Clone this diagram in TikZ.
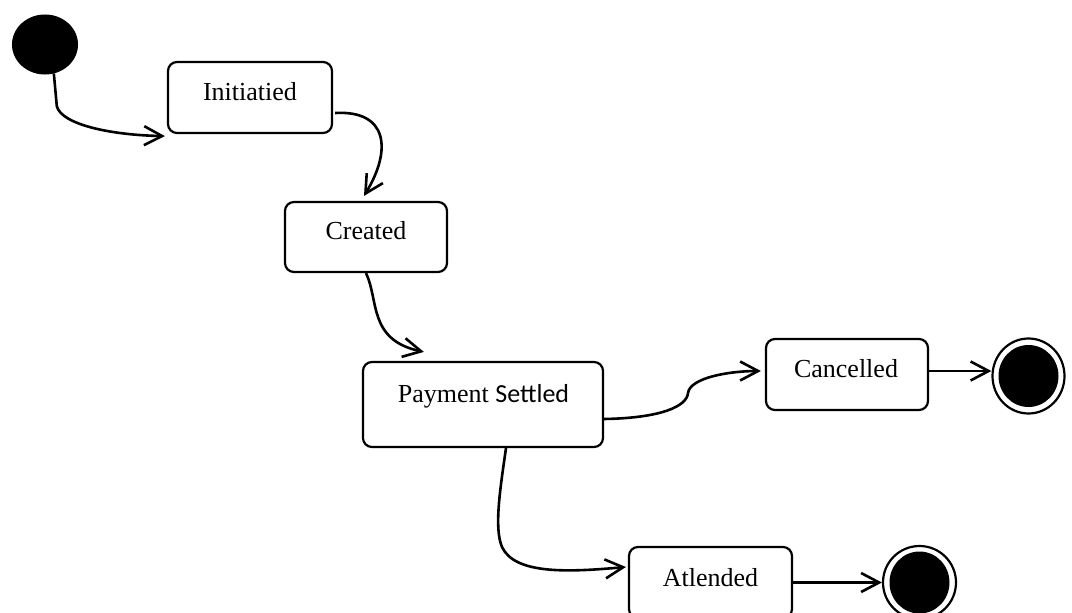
\documentclass[tikz,border=0pt]{standalone}
\usepackage{fontspec}
\setmainfont{Liberation Serif}
\newfontfamily\calibrifont{Carlito}
\usetikzlibrary{arrows.meta,shapes.geometric,calc}

\begin{document}
\begin{tikzpicture}[x=1pt,y=-1pt,
  statebox/.style={draw, line width=2.2pt, rounded corners=9pt, inner sep=0pt},
  statetext/.style={anchor=base, inner sep=0pt, font=\fontsize{26}{30}\selectfont},
  startdot/.style={ellipse, fill=black, draw=black, line width=1pt, inner sep=0pt},
  enddot/.style={ellipse, draw=black, line width=2.2pt, inner sep=0pt,
    path picture={\fill[black] (path picture bounding box.center) ellipse [x radius=30pt, y radius=31pt];}},
  flow/.style={line width=2.6pt, -{Straight Barb[length=18pt,width=19pt,line width=2.6pt]}}
]
\useasboundingbox (0,0) rectangle (1072,613);
\clip (0,0) rectangle (1072,613);

% initial pseudo-state
\node[startdot, minimum width=65pt, minimum height=59pt] (init) at (45,44.5) {};

% states
\node[statebox, minimum width=164pt, minimum height=71pt] (initiated) at (250,97.5) {};
\node[statetext] (tInitiated) at (250,100) {Initiatied};

\node[statebox, minimum width=162pt, minimum height=70pt] (created) at (366,237) {};
\node[statetext] (tCreated) at (366,239) {Created};

\node[statebox, minimum width=240pt, minimum height=85pt] (payment) at (483,404.5) {};
\node[statetext] (tPayment) at (483.5,402) {Payment {\calibrifont Settled}};

\node[statebox, minimum width=162pt, minimum height=71pt] (cancelled) at (847,374.5) {};
\node[statetext] (tCancelled) at (846,377) {Cancelled};

\node[statebox, minimum width=163pt, minimum height=71pt] (attended) at (710.5,582.5) {};
\node[statetext] (tAttended) at (710.5,586) {Atlended};

% final states
\node[enddot, minimum width=72pt, minimum height=75pt] (fin1) at (1028.5,376) {};
\node[enddot, minimum width=73pt, minimum height=73pt] (fin2) at (919.5,582.5) {};

% transitions
\draw[flow] (init.-73) -- ($(init.-73)+(3,33)$)
  .. controls +(5,18) and (110,135) .. ($(initiated.south west)+(-2,2)$);

\draw[flow] ($(initiated.east)+(2,15.5)$)
  .. controls (388,110) and (392,150) .. ($(created.north)+(-2,-5)$);

\draw[flow] (created.south)
  .. controls (379,300) and (368,340) .. ($(payment.north west)+(62,-9)$);

\draw[flow] ($(payment.east)+(0,14.5)$)
  .. controls (662,418) and (687,406) .. (688,393)
  .. controls (690,378) and (728,371) .. ($(cancelled.west)+(-4,-3.5)$);

\draw[flow] ($(payment.south)+(23,0)$)
  .. controls (500,490) and (494,528) .. (502,547)
  .. controls (515,575) and (570,572) .. ($(attended.west)+(-2,-15.5)$);

\draw[flow] ($(cancelled.east)+(0,-3.5)$) coordinate (cOut) -- (cOut -| fin1.west);

\draw[flow] (attended.east) -- (fin2);
\end{tikzpicture}
\end{document}
